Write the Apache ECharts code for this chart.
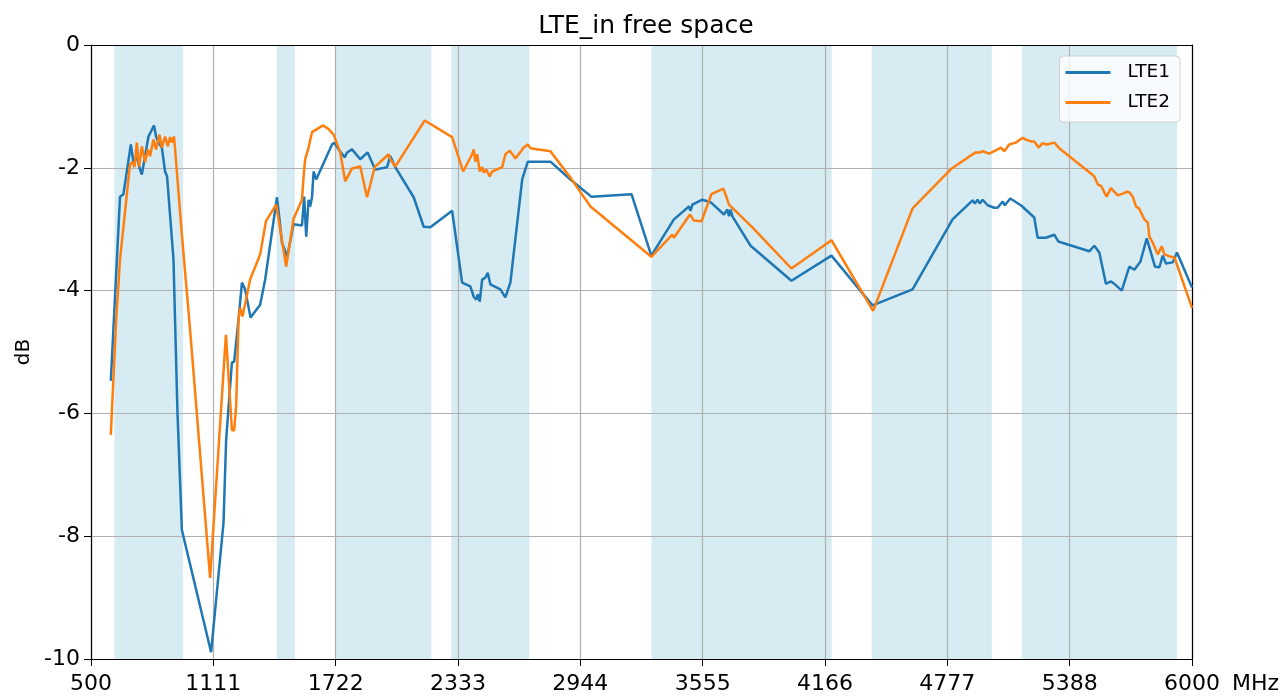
<!DOCTYPE html>
<html>
<head>
<meta charset="utf-8">
<script src="https://cdn.jsdelivr.net/npm/echarts@6/dist/echarts.min.js"></script>
<style>
html,body{margin:0;padding:0;background:#fff;}
#chart{width:1282px;height:697px;}
</style>
</head>
<body>
<div id="chart"></div>
<script>
// ---- data (MHz, dB) ----
const lte1Freq = [599,645,662,699,712,729,745,754,787,795,815,825,837,854,870,880,912,932,954,1100,1162,1175,1204,1215,1237,1254,1270,1297,1345,1370,1429,1440,1454,1470,1480,1512,1554,1565,1575,1587,1595,1604,1612,1625,1704,1715,1737,1767,1779,1787,1804,1845,1882,1920,1979,1995,2020,2112,2162,2195,2304,2354,2395,2412,2425,2432,2442,2454,2470,2482,2495,2545,2570,2595,2654,2682,2795,2895,2999,3200,3299,3412,3487,3495,3504,3554,3595,3662,3679,3687,3695,3704,3795,3999,4199,4404,4604,4804,4904,4915,4929,4940,4954,4979,5012,5029,5054,5065,5092,5145,5212,5229,5270,5312,5332,5487,5512,5537,5570,5595,5612,5649,5687,5712,5742,5774,5815,5837,5854,5870,5904,5925,6000];
const lte1Db = [-5.47,-2.47,-2.43,-1.62,-1.91,-1.83,-2.03,-2.11,-1.49,-1.49,-1.31,-1.49,-1.59,-1.67,-2.06,-2.14,-3.49,-5.99,-7.90,-9.89,-7.78,-6.43,-5.17,-5.16,-4.47,-3.87,-3.98,-4.44,-4.23,-3.82,-2.48,-2.79,-3.22,-3.36,-3.45,-2.92,-2.94,-2.47,-3.12,-2.52,-2.63,-2.48,-2.06,-2.19,-1.62,-1.59,-1.70,-1.83,-1.75,-1.78,-1.70,-1.86,-1.75,-2.03,-1.99,-1.81,-1.99,-2.48,-2.96,-2.97,-2.70,-3.87,-3.93,-4.10,-4.15,-4.06,-4.18,-3.82,-3.79,-3.71,-3.90,-3.98,-4.11,-3.87,-2.19,-1.90,-1.90,-2.19,-2.47,-2.43,-3.43,-2.84,-2.63,-2.70,-2.60,-2.52,-2.56,-2.76,-2.68,-2.79,-2.68,-2.79,-3.27,-3.84,-3.43,-4.24,-3.98,-2.84,-2.53,-2.58,-2.52,-2.58,-2.52,-2.61,-2.65,-2.65,-2.55,-2.61,-2.50,-2.61,-2.81,-3.14,-3.14,-3.09,-3.20,-3.36,-3.27,-3.38,-3.89,-3.85,-3.89,-4.00,-3.61,-3.66,-3.53,-3.15,-3.61,-3.62,-3.43,-3.56,-3.54,-3.38,-3.95];

const lte2Freq = [599,625,645,692,695,707,717,729,740,754,770,784,795,812,825,842,854,870,884,895,904,915,954,995,1095,1174,1204,1215,1225,1237,1245,1257,1295,1345,1374,1425,1454,1475,1512,1554,1562,1570,1587,1604,1629,1659,1687,1712,1745,1770,1804,1845,1879,1917,1987,1995,2020,2167,2304,2359,2404,2412,2420,2429,2442,2454,2462,2475,2492,2504,2554,2570,2592,2620,2662,2682,2695,2795,2895,2995,3299,3404,3412,3492,3512,3550,3599,3659,3675,3687,3804,3999,4199,4407,4604,4800,4904,4920,4929,4942,4954,4987,5012,5045,5062,5087,5120,5154,5170,5195,5212,5233,5254,5275,5312,5337,5490,5512,5529,5547,5573,5595,5629,5654,5675,5687,5704,5720,5735,5762,5779,5787,5804,5829,5849,5862,5895,5912,5920,6000];
const lte2Db = [-6.35,-4.52,-3.49,-2.03,-1.95,-1.90,-1.99,-1.59,-1.98,-1.65,-1.91,-1.70,-1.81,-1.54,-1.70,-1.46,-1.67,-1.49,-1.65,-1.50,-1.59,-1.49,-3.09,-4.64,-8.68,-4.72,-6.27,-6.28,-5.89,-4.47,-4.28,-4.42,-3.82,-3.41,-2.87,-2.60,-3.18,-3.61,-2.83,-2.52,-2.14,-1.86,-1.67,-1.42,-1.37,-1.31,-1.37,-1.46,-1.75,-2.22,-2.01,-1.98,-2.48,-1.99,-1.78,-1.86,-1.98,-1.23,-1.50,-2.06,-1.78,-1.70,-1.90,-1.78,-2.06,-1.99,-2.08,-2.03,-2.14,-2.06,-1.99,-1.78,-1.72,-1.85,-1.67,-1.62,-1.68,-1.73,-2.16,-2.63,-3.45,-3.09,-3.14,-2.76,-2.86,-2.87,-2.43,-2.34,-2.48,-2.60,-2.97,-3.64,-3.18,-4.33,-2.66,-2.01,-1.78,-1.75,-1.73,-1.75,-1.73,-1.77,-1.73,-1.67,-1.73,-1.62,-1.59,-1.51,-1.54,-1.57,-1.57,-1.67,-1.60,-1.62,-1.59,-1.68,-2.08,-2.14,-2.27,-2.30,-2.47,-2.33,-2.45,-2.42,-2.39,-2.40,-2.47,-2.63,-2.66,-2.84,-2.89,-3.12,-3.22,-3.41,-3.28,-3.41,-3.45,-3.46,-3.53,-4.28];

// shaded frequency bands (MHz)
const bandStart = [617,1427,1720,2300,3300,4400,5150];
const bandEnd   = [960,1518,2200,2690,4200,5000,5925];

const xTickLabels = ['500','1111','1722','2333','2944','3555','4166','4777','5388','6000'];
const seriesNames = ['LTE1','LTE2'];

function pairs(xs, ys){ return xs.map((x,i)=>[x, ys[i]]); }

const chart = echarts.init(document.getElementById('chart'), null, {renderer:'canvas'});
const FONT = 'DejaVu Sans';
const xMin = 500, xMax = 6000, xStep = (xMax - xMin) / 9;

const option = {
  animation: false,
  backgroundColor: '#fff',
  textStyle: {fontFamily: FONT},
  title: {
    text: 'LTE_in free space',
    left: 641, top: 9, textAlign: 'center',
    textStyle: {fontFamily: FONT, fontSize: 25, fontWeight: 'normal', color: '#000'}
  },
  legend: {
    data: seriesNames,
    orient: 'vertical',
    right: 102, top: 56,
    icon: 'rect',
    itemWidth: 45, itemHeight: 3, itemGap: 11,
    padding: [7, 10, 10, 6],
    backgroundColor: 'rgba(255,255,255,0.8)',
    borderColor: '#d0d0d0', borderWidth: 1, borderRadius: 4,
    textStyle: {fontFamily: FONT, fontSize: 18.5, color: '#000', padding: [0, 0, 0, 12]},
    z: 10
  },
  grid: {left: 91, right: 90, top: 45, bottom: 38, containLabel: false, outerBoundsMode: 'none'},
  xAxis: [{
    type: 'value', min: xMin, max: xMax, interval: xStep, z: 2,
    name: 'MHz', nameLocation: 'end', nameGap: 40, nameMoveOverlap: false,
    nameTextStyle: {fontFamily: FONT, fontSize: 22, color: '#000', align: 'left', verticalAlign: 'top', padding: [14,0,0,0]},
    axisLine: {show: true, onZero: false, lineStyle: {color: '#000', width: 1.2}},
    axisTick: {show: true, length: 7, lineStyle: {color: '#000'}},
    axisLabel: {fontFamily: FONT, fontSize: 22, color: '#000', margin: 14,
      formatter: v => xTickLabels[Math.round((v - xMin) / xStep)] || ''},
    splitLine: {show: true, lineStyle: {color: '#b0b0b0', width: 1.2}}
  },{
    type: 'value', position: 'top', min: xMin, max: xMax, z: 2,
    axisLine: {show: true, onZero: false, lineStyle: {color: '#000', width: 1.2}},
    axisTick: {show: false}, axisLabel: {show: false}, splitLine: {show: false}
  }],
  yAxis: [{
    type: 'value', min: -10, max: 0, interval: 2, z: 2,
    name: 'dB', nameLocation: 'middle', nameGap: 57, nameRotate: 90, nameMoveOverlap: false,
    nameTextStyle: {fontFamily: FONT, fontSize: 20, color: '#000'},
    axisLine: {show: true, onZero: false, lineStyle: {color: '#000', width: 1.2}},
    axisTick: {show: true, length: 7, lineStyle: {color: '#000'}},
    axisLabel: {fontFamily: FONT, fontSize: 22, color: '#000', margin: 11},
    splitLine: {show: true, lineStyle: {color: '#b0b0b0', width: 1.2}}
  },{
    type: 'value', position: 'right', min: -10, max: 0, z: 2,
    axisLine: {show: true, onZero: false, lineStyle: {color: '#000', width: 1.2}},
    axisTick: {show: false}, axisLabel: {show: false}, splitLine: {show: false}
  }],
  series: [
    {
      name: 'bands', type: 'line', data: [], z: 1, silent: true,
      markArea: {
        silent: true, z: 1,
        itemStyle: {color: 'rgba(173,216,230,0.5)'},
        data: bandStart.map((s,i)=>[{xAxis: s}, {xAxis: bandEnd[i]}])
      }
    },
    {
      name: seriesNames[0], type: 'line', data: pairs(lte1Freq, lte1Db),
      symbol: 'none', z: 3, color: '#1f77b4',
      lineStyle: {color: '#1f77b4', width: 2.5}
    },
    {
      name: seriesNames[1], type: 'line', data: pairs(lte2Freq, lte2Db),
      symbol: 'none', z: 3, color: '#ff7f0e',
      lineStyle: {color: '#ff7f0e', width: 2.5}
    }
  ]
};
chart.setOption(option);
</script>
</body>
</html>
